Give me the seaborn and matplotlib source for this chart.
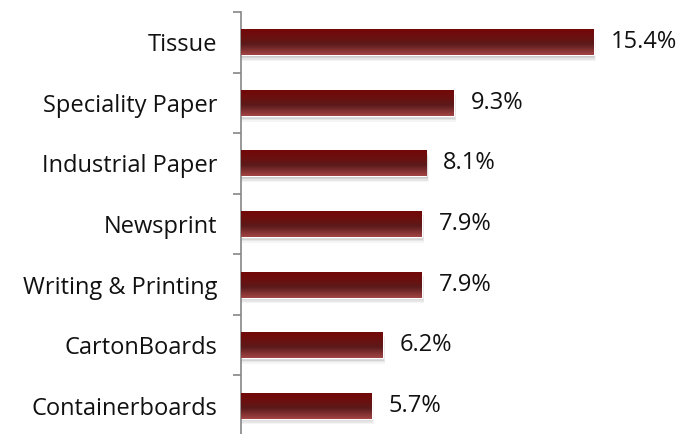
import matplotlib
matplotlib.use("Agg")
import matplotlib.pyplot as plt
import numpy as np
import pandas as pd
import seaborn as sns
from matplotlib.colors import LinearSegmentedColormap
from matplotlib.patches import Rectangle

categories = ["Tissue", "Speciality Paper", "Industrial Paper", "Newsprint",
              "Writing & Printing", "CartonBoards", "Containerboards"]
growth = [15.4, 9.3, 8.1, 7.9, 7.9, 6.2, 5.7]
value_labels = ["15.4%", "9.3%", "8.1%", "7.9%", "7.9%", "6.2%", "5.7%"]

df = pd.DataFrame({"category": categories, "growth": growth})

sns.set_theme(style="white")
plt.rcParams["font.family"] = ["Open Sans", "DejaVu Sans"]

fig = plt.figure(figsize=(6.82, 4.34), dpi=100)
ax = fig.add_axes([241 / 682, -2 / 434, 1 - 241 / 682, 424 / 434])

sns.barplot(data=df, x="growth", y="category", orient="h", width=0.43,
            color="#6a1010", ax=ax, saturation=1)

xmax = (682 - 241) / 22.9

# vertical gradient for each bar, plus a soft drop shadow
grad = LinearSegmentedColormap.from_list(
    "bar", [(0.0, "#740808"), (0.35, "#6a1010"), (0.6, "#5c1b1b"), (1.0, "#a24444")])
gimg = np.linspace(0, 1, 64).reshape(-1, 1)
for patch in list(ax.patches):
    x0, y0 = patch.get_x(), patch.get_y()
    w, h = patch.get_width(), patch.get_height()
    for k, a in enumerate([0.10, 0.08, 0.06, 0.04]):
        off = 0.02 + 0.025 * k
        ax.add_patch(Rectangle((x0, y0 + off), w + 0.03 + 0.02 * k, h,
                               facecolor="black", alpha=a, edgecolor="none", zorder=1))
    patch.set_zorder(2)
    im = ax.imshow(gimg, cmap=grad, aspect="auto",
                   extent=[x0, x0 + w, y0 + h, y0], zorder=3)
    im.set_clip_path(patch)

for i, (v, lab) in enumerate(zip(growth, value_labels)):
    ax.annotate(lab, xy=(v, i), xytext=(12, 0), textcoords="offset points",
                va="center", ha="left", fontsize=17, color="#111111")

ax.set_xlim(0, xmax)
ax.set_ylim(len(categories) - 0.5, -0.5)
ax.set_xlabel("")
ax.set_ylabel("")
ax.set_xticks([])
for s in ["top", "right", "bottom"]:
    ax.spines[s].set_visible(False)
ax.spines["left"].set_color("#868686")
ax.spines["left"].set_linewidth(1.2)

ax.set_yticks(range(len(categories)))
ax.set_yticklabels(categories, fontsize=17, color="#111111")
ax.tick_params(axis="y", which="major", left=False, length=0, pad=17)
ax.set_yticks(np.arange(-0.5, len(categories), 1.0), minor=True)
ax.tick_params(axis="y", which="minor", left=True, length=6, width=1.2,
               color="#868686", direction="out")

fig.savefig("out.png", dpi=100, facecolor="white")
